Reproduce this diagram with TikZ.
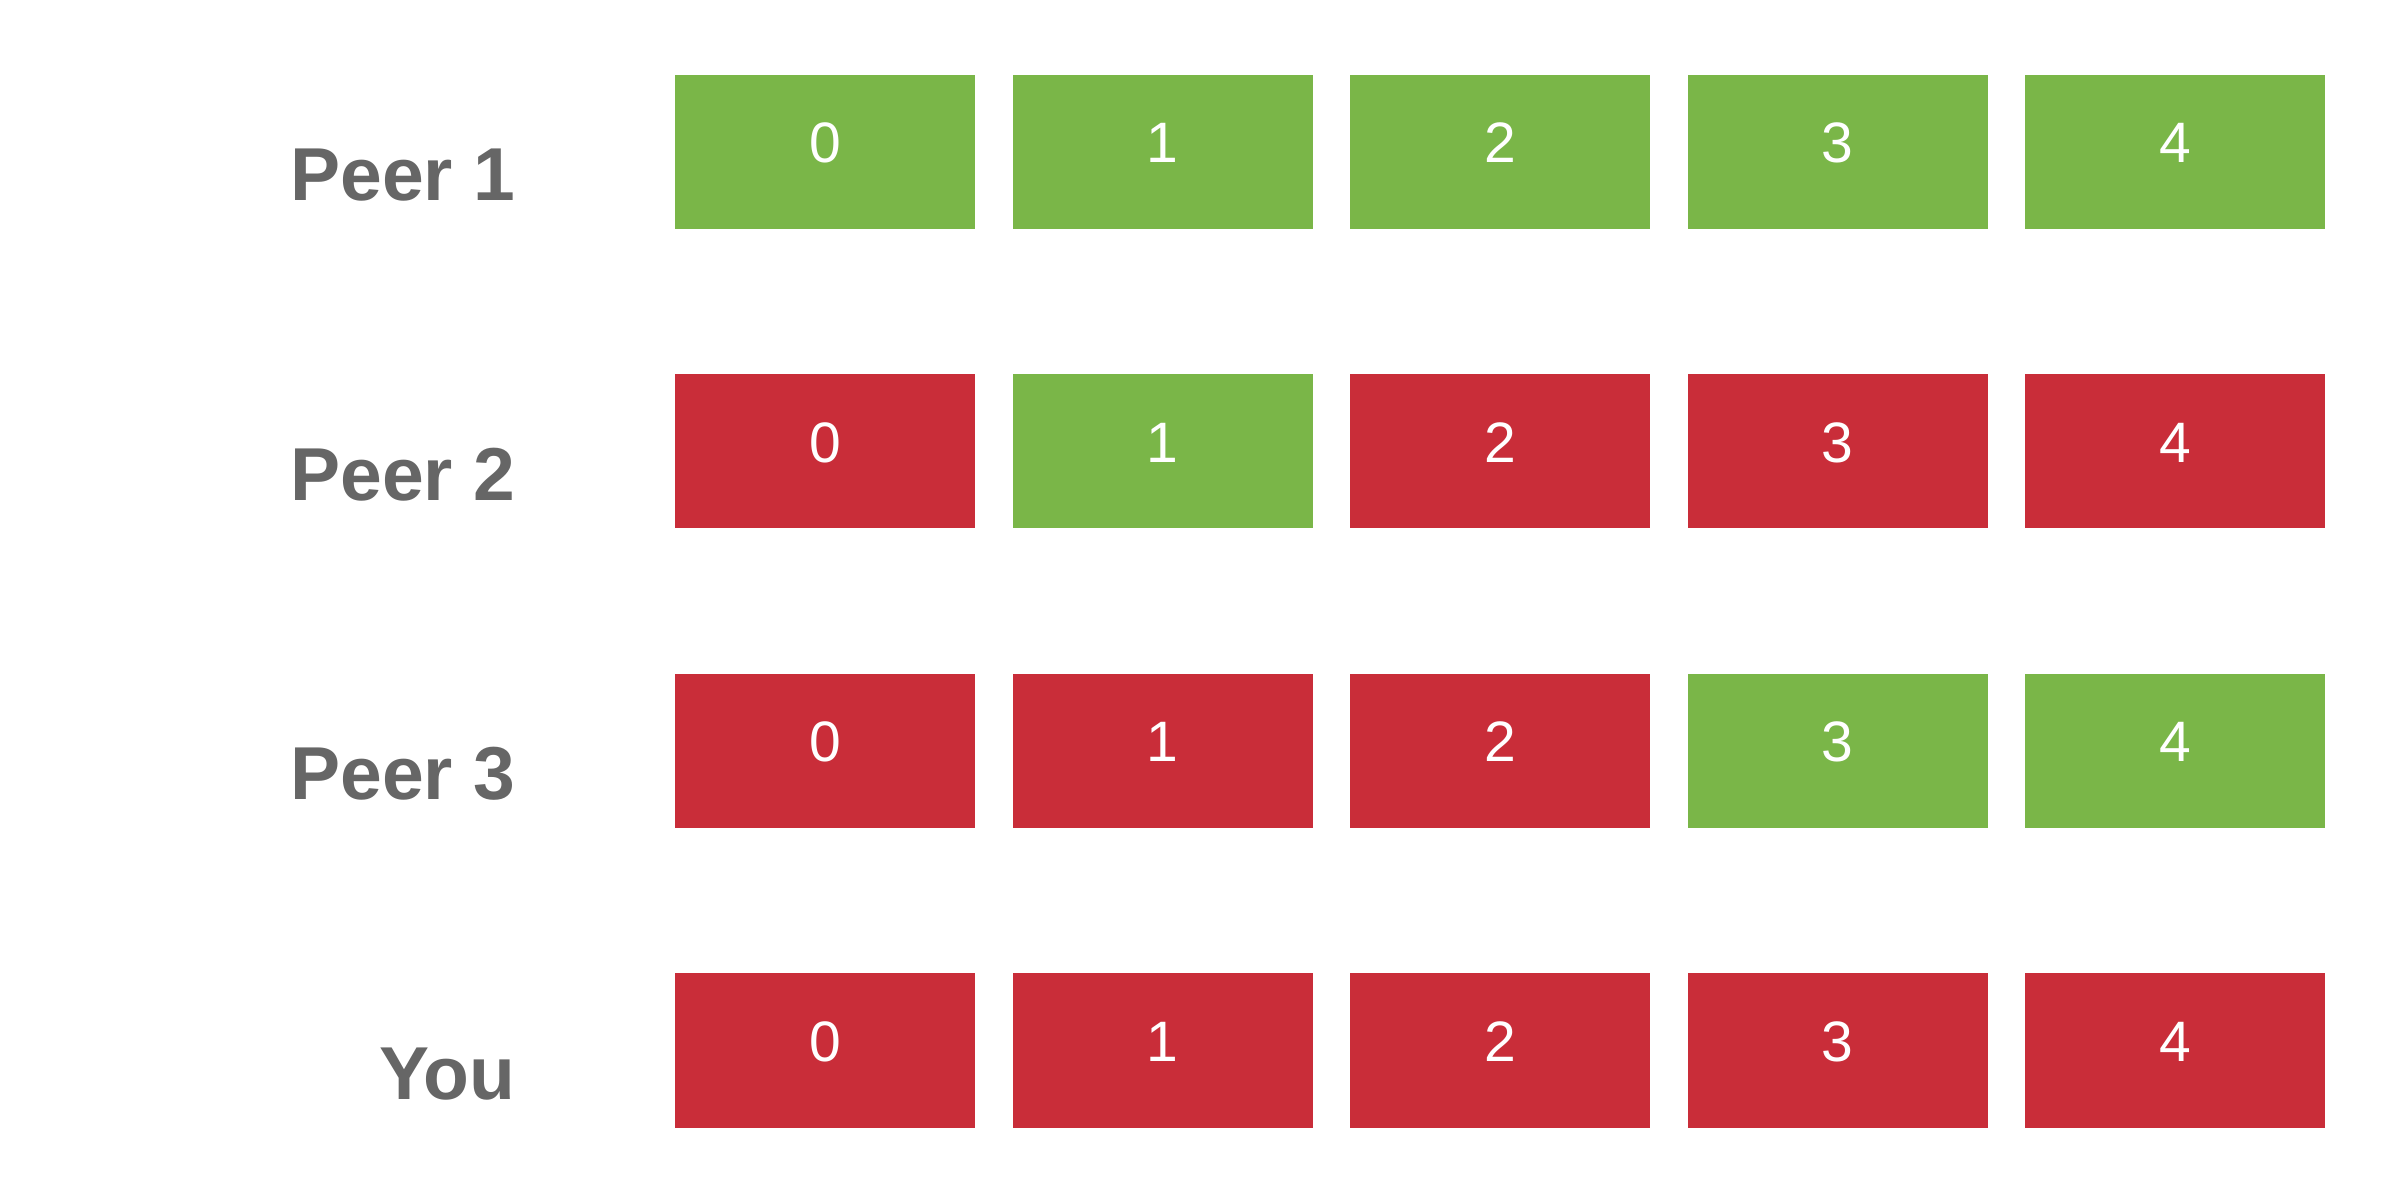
\documentclass[tikz,border=0pt]{standalone}
\usepackage{fontspec}
\setmainfont{Liberation Sans}
\definecolor{pgreen}{HTML}{7AB648}
\definecolor{pred}{HTML}{C92D39}
\definecolor{pgray}{HTML}{666666}
\begin{document}
\begin{tikzpicture}[x=0.5pt,y=-0.5pt,
  piece/.style={draw=none,minimum width=150pt,minimum height=77pt,inner sep=0pt,outer sep=0pt,anchor=north west},
  have/.style={piece,fill=pgreen},
  miss/.style={piece,fill=pred},
  num/.style={text=white,font=\fontsize{28.5pt}{31pt}\selectfont,anchor=base,inner sep=0pt},
  peer/.style={text=pgray,font=\fontsize{37.5pt}{41pt}\selectfont\bfseries,anchor=base east,inner sep=0pt}]
\useasboundingbox (0,0) rectangle (2400,1202);
\foreach \r/\name/\cols in {0/Peer 1/{1,1,1,1,1},1/Peer 2/{0,1,0,0,0},2/Peer 3/{0,0,0,1,1},3/You/{0,0,0,0,0}}{
  \pgfmathsetmacro{\T}{75+299.5*\r}
  \node[peer] (lab\r) at (516,\T+126) {\name};
  \foreach \s [count=\c from 0] in \cols {
    \pgfmathsetmacro{\X}{675+337.5*\c}
    \ifnum\s=1
      \node[have] (b\r\c) at (\X,\T) {};
    \else
      \node[miss] (b\r\c) at (\X,\T) {};
    \fi
    \node[num] (n\r\c) at (\X+150,\T+88) {\c};
  }
}
\end{tikzpicture}
\end{document}
